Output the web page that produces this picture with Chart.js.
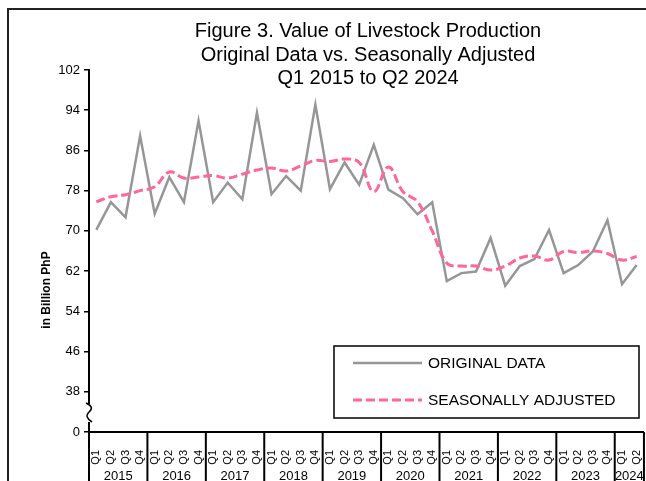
<!DOCTYPE html>
<html>
<head>
<meta charset="utf-8">
<script src="https://cdn.jsdelivr.net/npm/chart.js@4.4.0/dist/chart.umd.min.js"></script>
<style>
  html, body { margin: 0; padding: 0; background: #fff; overflow: hidden; }
  #wrap { width: 660px; height: 495px; }
</style>
</head>
<body>
<div id="wrap"><canvas id="chart" width="660" height="495"></canvas></div>
<script>
// data (billion PhP)
const years = ['2015', '2016', '2017', '2018', '2019', '2020', '2021', '2022', '2023', '2024'];
const periods = [
  '2015 Q1', '2015 Q2', '2015 Q3', '2015 Q4',
  '2016 Q1', '2016 Q2', '2016 Q3', '2016 Q4',
  '2017 Q1', '2017 Q2', '2017 Q3', '2017 Q4',
  '2018 Q1', '2018 Q2', '2018 Q3', '2018 Q4',
  '2019 Q1', '2019 Q2', '2019 Q3', '2019 Q4',
  '2020 Q1', '2020 Q2', '2020 Q3', '2020 Q4',
  '2021 Q1', '2021 Q2', '2021 Q3', '2021 Q4',
  '2022 Q1', '2022 Q2', '2022 Q3', '2022 Q4',
  '2023 Q1', '2023 Q2', '2023 Q3', '2023 Q4',
  '2024 Q1', '2024 Q2'
];
const originalData = [
  70.2, 75.7, 72.7, 88.9,
  73.4, 80.7, 75.7, 91.9,
  75.7, 79.6, 76.3, 93.5,
  77.3, 80.9, 78.0, 95.1,
  78.3, 83.6, 79.2, 87.1,
  78.2, 76.5, 73.3, 75.7,
  60.0, 61.6, 61.9, 68.6,
  59.1, 63.0, 64.4, 70.2,
  61.6, 63.2, 65.9, 72.1,
  59.4, 63.2
];
const adjustedData = [
  75.8, 76.8, 77.2, 78.0,
  78.8, 81.7, 80.5, 80.7,
  81.0, 80.5, 81.3, 82.1,
  82.5, 81.9, 82.9, 84.0,
  83.8, 84.3, 83.6, 77.8,
  82.7, 77.8, 75.8, 70.0,
  63.6, 63.0, 63.0, 62.2,
  63.0, 64.6, 65.0, 64.2,
  65.9, 65.7, 66.0, 65.5,
  64.2, 64.9
];
// broken axis: bottom tick sits at 30 but is labelled 0
const yTickValues = [30, 38, 46, 54, 62, 70, 78, 86, 94, 102];
const yTickLabels = ['0', '38', '46', '54', '62', '70', '78', '86', '94', '102'];

const FONT = '"Liberation Sans", Arial, sans-serif';
const titleLines = [
  'Figure 3. Value of Livestock Production',
  'Original Data vs. Seasonally Adjusted',
  'Q1 2015 to Q2 2024'
];

const decorations = {
  id: 'decorations',
  afterDraw(chart) {
    const { ctx, chartArea, scales: { x } } = chart;
    const qw = (chartArea.right - chartArea.left) / periods.length;
    ctx.save();

    // outer frame (top and left edges show)
    ctx.strokeStyle = '#222';
    ctx.lineWidth = 2;
    ctx.beginPath();
    ctx.moveTo(8, chart.height);
    ctx.lineTo(8, 9);
    ctx.lineTo(chart.width, 9);
    ctx.stroke();

    // title
    ctx.fillStyle = '#000';
    ctx.textAlign = 'center';
    ctx.textBaseline = 'alphabetic';
    ctx.font = '20px ' + FONT;
    titleLines.forEach((t, i) => ctx.fillText(t, 368, 37 + i * 23.5));

    // y axis title
    ctx.save();
    ctx.translate(47, 290);
    ctx.rotate(-Math.PI / 2);
    ctx.font = 'bold 12px ' + FONT;
    ctx.textBaseline = 'middle';
    ctx.fillText('in Billion PhP', 0, 0);
    ctx.restore();

    // year dividers and labels
    ctx.strokeStyle = '#000';
    ctx.lineWidth = 2;
    ctx.font = '13px ' + FONT;
    years.forEach((yr, i) => {
      const first = i * 4;
      const last = Math.min(first + 3, periods.length - 1);
      const bx = x.getPixelForValue(first) - qw / 2;
      ctx.beginPath();
      ctx.moveTo(bx, chartArea.bottom);
      ctx.lineTo(bx, chart.height);
      ctx.stroke();
      const cx = (x.getPixelForValue(first) + x.getPixelForValue(last)) / 2;
      ctx.fillText(yr, cx, 480);
    });
    ctx.beginPath();
    ctx.moveTo(chartArea.right, chartArea.bottom);
    ctx.lineTo(chartArea.right, chart.height);
    ctx.stroke();

    // axis break mark
    const ax = chartArea.left;
    ctx.fillStyle = '#fff';
    ctx.fillRect(ax - 3, 404, 6, 18);
    ctx.lineWidth = 1.5;
    ctx.beginPath();
    ctx.moveTo(ax - 3, 403);
    ctx.quadraticCurveTo(ax + 6, 407, ax, 412);
    ctx.quadraticCurveTo(ax - 5, 417, ax + 3, 422);
    ctx.stroke();

    // legend
    ctx.fillStyle = '#fff';
    ctx.fillRect(334, 346, 305, 72);
    ctx.strokeStyle = '#000';
    ctx.lineWidth = 1.5;
    ctx.strokeRect(334, 346, 305, 72);
    const items = chart.data.datasets;
    items.forEach((ds, i) => {
      const ly = 363 + i * 37;
      ctx.strokeStyle = ds.borderColor;
      ctx.lineWidth = ds.borderWidth;
      ctx.setLineDash(ds.borderDash || []);
      ctx.beginPath();
      ctx.moveTo(353, ly);
      ctx.lineTo(422, ly);
      ctx.stroke();
      ctx.setLineDash([]);
      ctx.fillStyle = '#000';
      ctx.textAlign = 'left';
      ctx.textBaseline = 'middle';
      ctx.font = '15.5px ' + FONT;
      ctx.fillText(ds.label, 428, ly + 1);
    });

    ctx.restore();
  }
};

new Chart(document.getElementById('chart'), {
  type: 'line',
  data: {
    labels: periods,
    datasets: [
      {
        label: 'ORIGINAL DATA',
        data: originalData,
        borderColor: '#969696',
        borderWidth: 2.5,
        pointRadius: 0,
        tension: 0,
        order: 2
      },
      {
        label: 'SEASONALLY ADJUSTED',
        data: adjustedData,
        borderColor: '#FF6699',
        borderWidth: 3,
        borderDash: [9, 4],
        pointRadius: 0,
        tension: 0.4,
        order: 1
      }
    ]
  },
  options: {
    responsive: false,
    animation: false,
    devicePixelRatio: 1,
    layout: { padding: { top: 70, right: 12, bottom: 0, left: 0 } },
    plugins: {
      legend: { display: false },
      tooltip: { enabled: false },
      title: { display: false }
    },
    scales: {
      x: {
        offset: true,
        grid: { display: false },
        border: { display: true, color: '#000', width: 2 },
        ticks: {
          autoSkip: false,
          minRotation: 90,
          maxRotation: 90,
          padding: 10,
          color: '#000',
          font: { family: FONT, size: 11 },
          callback: (v, i) => periods[i].slice(5)
        },
        afterFit: (scale) => { scale.height = 63; }
      },
      y: {
        min: 30,
        max: 102,
        afterBuildTicks: (scale) => { scale.ticks = yTickValues.map(v => ({ value: v })); },
        grid: { drawOnChartArea: false, drawTicks: true, tickLength: 5, color: '#000', lineWidth: 1.5 },
        border: { display: true, color: '#000', width: 2 },
        ticks: {
          padding: 4,
          color: '#000',
          font: { family: FONT, size: 13 },
          callback: (v) => yTickLabels[yTickValues.indexOf(v)]
        },
        afterFit: (scale) => { scale.width = 89; }
      }
    }
  },
  plugins: [decorations]
});
</script>
</body>
</html>
